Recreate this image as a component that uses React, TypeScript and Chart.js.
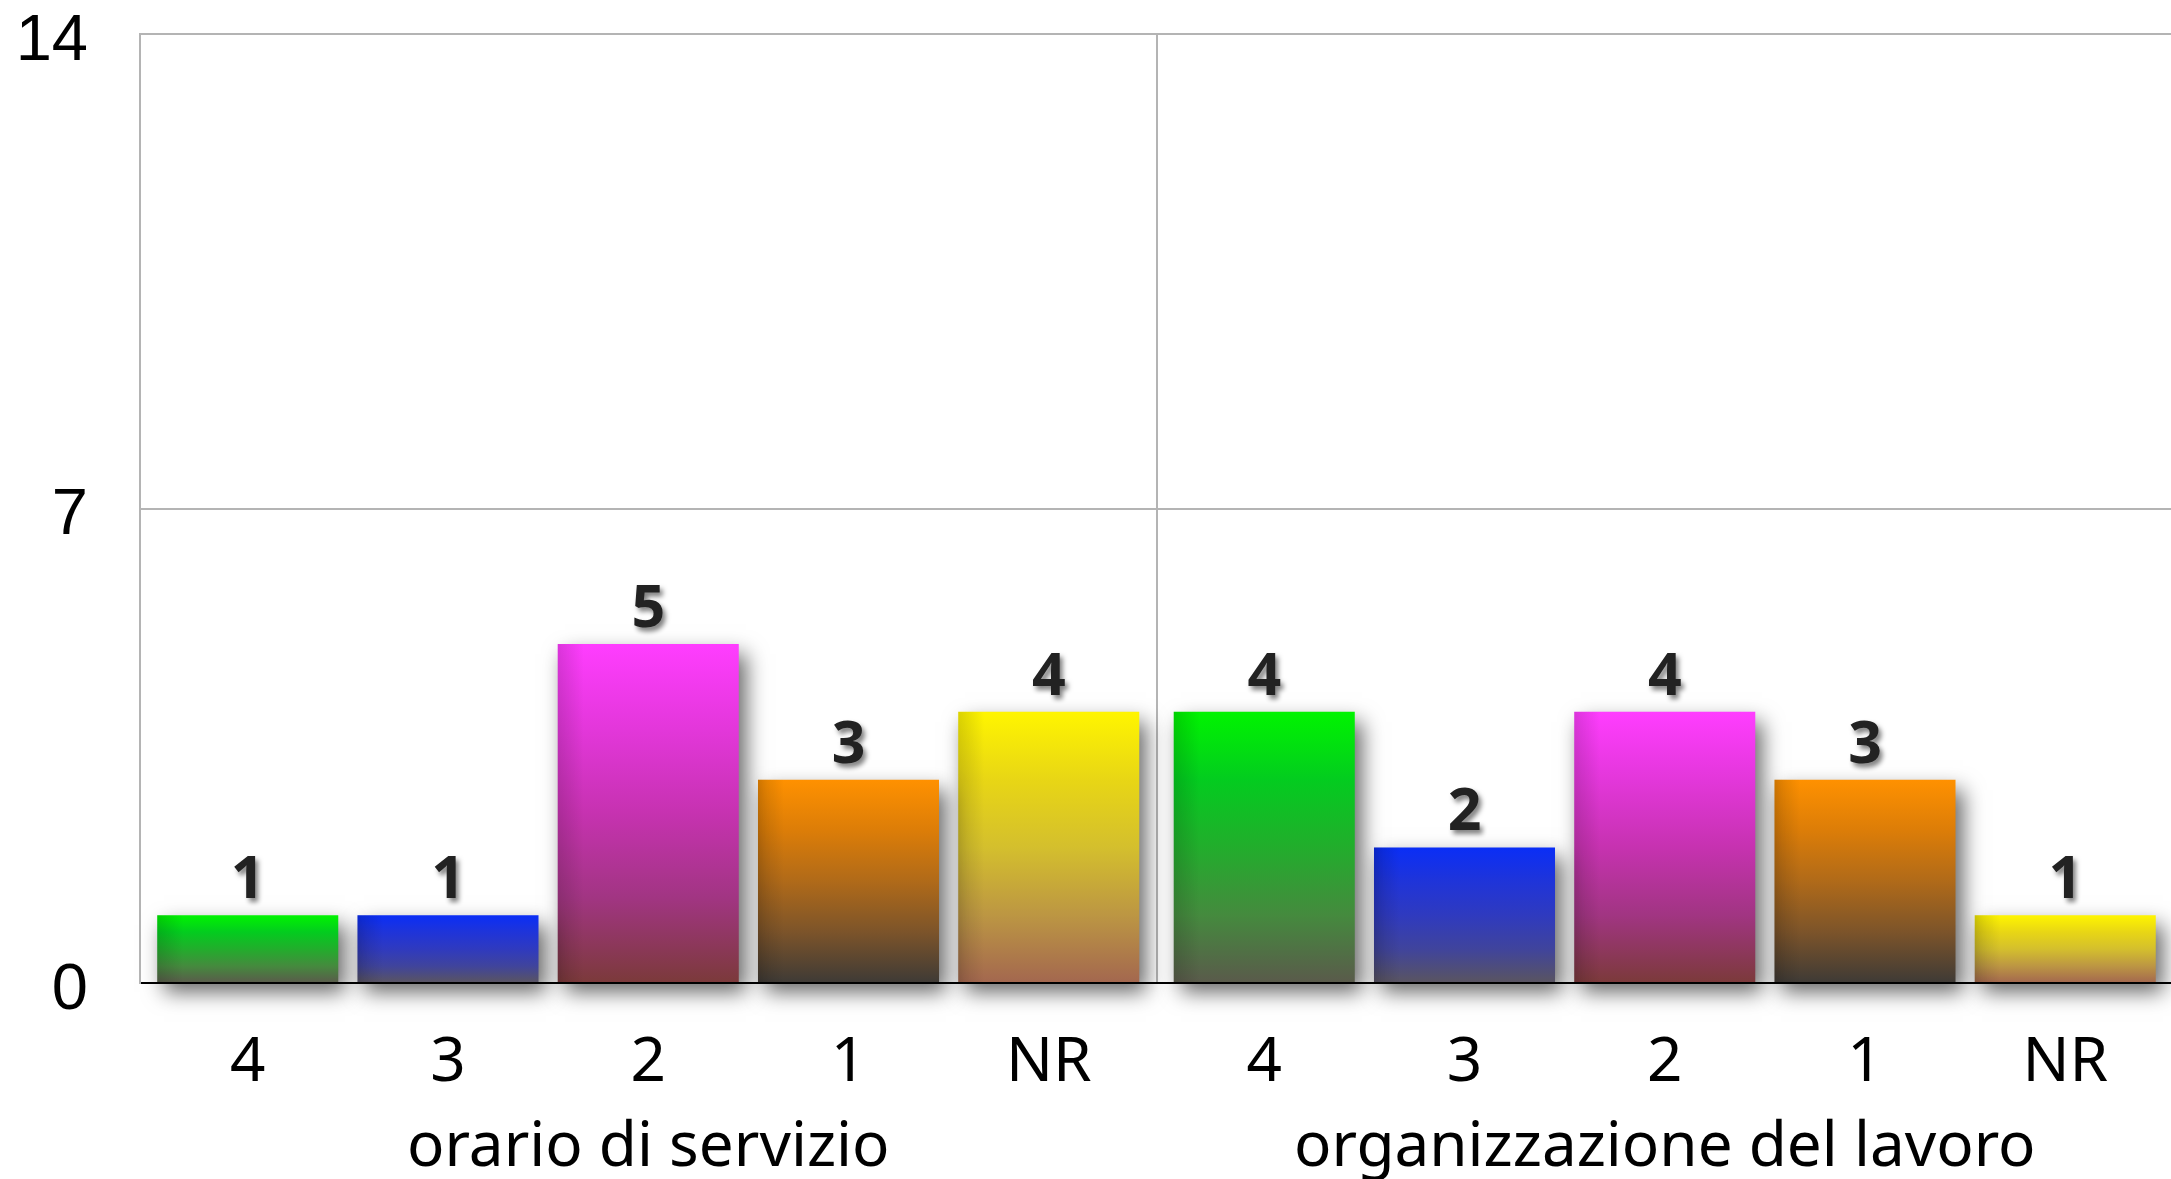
import React, { useEffect, useRef } from 'react';
import { Chart, registerables } from 'chart.js';

Chart.register(...registerables);

// ---- data ----
const groups = ['orario di servizio', 'organizzazione del lavoro'];
const ratings = ['4', '3', '2', '1', 'NR'];
// values for each rating: [orario di servizio, organizzazione del lavoro]
const rating4 = [1, 4];
const rating3 = [1, 2];
const rating2 = [5, 4];
const rating1 = [3, 3];
const ratingNR = [4, 1];
const yTicks = [0, 7, 14];

const seriesValues = [rating4, rating3, rating2, rating1, ratingNR];

// ---- styles ----
const gradients = [
  ['#00f400', '#03cc1f', '#22ad2c', '#458a3e', '#5a5a4b'],
  ['#0a2ef6', '#1f34d9', '#2f3abf', '#40449c', '#5a5560'],
  ['#ff3dff', '#e337da', '#c632b0', '#a13582', '#7b3a3a'],
  ['#ff9100', '#dc7d08', '#b06a19', '#7c542a', '#3e3a36'],
  ['#fff500', '#e8d615', '#d4bf2d', '#bc9643', '#a3674f'],
];

function barFill(context: any, stops: string[]) {
  const chart = context.chart;
  const area = chart.chartArea;
  if (!area || context.type !== 'data') return stops[0];
  const y = chart.scales.y;
  const top = y.getPixelForValue(context.raw);
  const base = y.getPixelForValue(0);
  if (!isFinite(top) || !isFinite(base) || top === base) return stops[0];
  const g = chart.ctx.createLinearGradient(0, top, 0, base);
  stops.forEach((c, i) => g.addColorStop(i / (stops.length - 1), c));
  return g;
}

const shadowPlugin = {
  id: 'barShadow',
  beforeDatasetsDraw(chart: any) {
    const c = chart.ctx;
    c.save();
    c.shadowColor = 'rgba(0,0,0,0.6)';
    c.shadowOffsetX = 7;
    c.shadowOffsetY = 10;
    c.shadowBlur = 20;
  },
  afterDatasetsDraw(chart: any) {
    chart.ctx.restore();
  },
};

const labelPlugin = {
  id: 'barLabels',
  afterDatasetsDraw(chart: any) {
    const ctx = chart.ctx;
    const area = chart.chartArea;
    chart.data.datasets.forEach((ds: any, di: number) => {
      const meta = chart.getDatasetMeta(di);
      meta.data.forEach((bar: any, i: number) => {
        const v = ds.data[i];
        // subtle inner shading on the left edge
        const w = bar.width;
        const left = bar.x - w / 2;
        const sh = ctx.createLinearGradient(left, 0, left + 26, 0);
        sh.addColorStop(0, 'rgba(0,0,0,0.14)');
        sh.addColorStop(1, 'rgba(0,0,0,0)');
        ctx.save();
        ctx.fillStyle = sh;
        ctx.fillRect(left, bar.y, 26, bar.base - bar.y);
        ctx.restore();

        // value label
        ctx.save();
        ctx.font = 'bold 59px "Noto Sans"';
        ctx.textAlign = 'center';
        ctx.textBaseline = 'alphabetic';
        ctx.shadowColor = 'rgba(0,0,0,0.5)';
        ctx.shadowOffsetX = 3;
        ctx.shadowOffsetY = 4;
        ctx.shadowBlur = 5;
        ctx.fillStyle = '#222222';
        ctx.fillText(String(v), bar.x, bar.y - 17);
        ctx.restore();

        // rating label under the bar
        ctx.save();
        ctx.font = '62px "Noto Sans"';
        ctx.textAlign = 'center';
        ctx.textBaseline = 'alphabetic';
        ctx.fillStyle = '#000000';
        ctx.fillText(ds.label, bar.x, area.bottom + 98);
        ctx.restore();
      });
    });
  },
};

export default function App() {
  const ref = useRef<HTMLCanvasElement | null>(null);

  useEffect(() => {
    document.body.style.margin = '0';
    document.body.style.overflow = 'hidden';
    const canvas = ref.current;
    if (!canvas) return;
    const chart = new Chart(canvas, {
      type: 'bar',
      data: {
        labels: groups,
        datasets: ratings.map((r, i) => ({
          label: r,
          data: seriesValues[i],
          backgroundColor: (c: any) => barFill(c, gradients[i]),
          borderWidth: 0,
          categoryPercentage: 0.985,
          barPercentage: 0.904,
          clip: false,
        })) as any,
      },
      options: {
        animation: false,
        responsive: false,
        devicePixelRatio: 1,
        layout: { padding: { top: 34, right: 3, left: 0, bottom: 0 } },
        plugins: {
          legend: { display: false },
          tooltip: { enabled: false },
        },
        scales: {
          x: {
            grid: { color: '#b4b4b4', lineWidth: 2, offset: true, drawTicks: false },
            border: { color: '#000000', width: 2 },
            ticks: {
              color: '#000000',
              font: { family: '"Noto Sans"', size: 62, lineHeight: 1.2 },
              padding: 128,
              maxRotation: 0,
              autoSkip: false,
            },
            afterFit: (s: any) => {
              s.height = 196;
            },
          },
          y: {
            min: 0,
            max: 14,
            grid: {
              color: '#b4b4b4',
              lineWidth: 2,
              drawTicks: true,
              tickLength: 52,
              tickColor: 'rgba(0,0,0,0)',
            },
            border: { color: '#b4b4b4', width: 2 },
            ticks: {
              color: '#000000',
              font: { family: '"Liberation Sans", Arial, sans-serif', size: 65, lineHeight: 1.0 },
              padding: 0,
              labelOffset: 8,
            },
            afterBuildTicks: (axis: any) => {
              axis.ticks = yTicks.map((v) => ({ value: v }));
            },
            afterFit: (s: any) => {
              s.width = 140;
            },
          },
        },
      } as any,
      plugins: [shadowPlugin, labelPlugin],
    });
    return () => chart.destroy();
  }, []);

  return (
    <div style={{ width: 2171, height: 1179, overflow: 'hidden', background: '#ffffff' }}>
      <canvas
        ref={ref}
        width={2176}
        height={1179}
        style={{ display: 'block', width: 2176, height: 1179 }}
      />
    </div>
  );
}
